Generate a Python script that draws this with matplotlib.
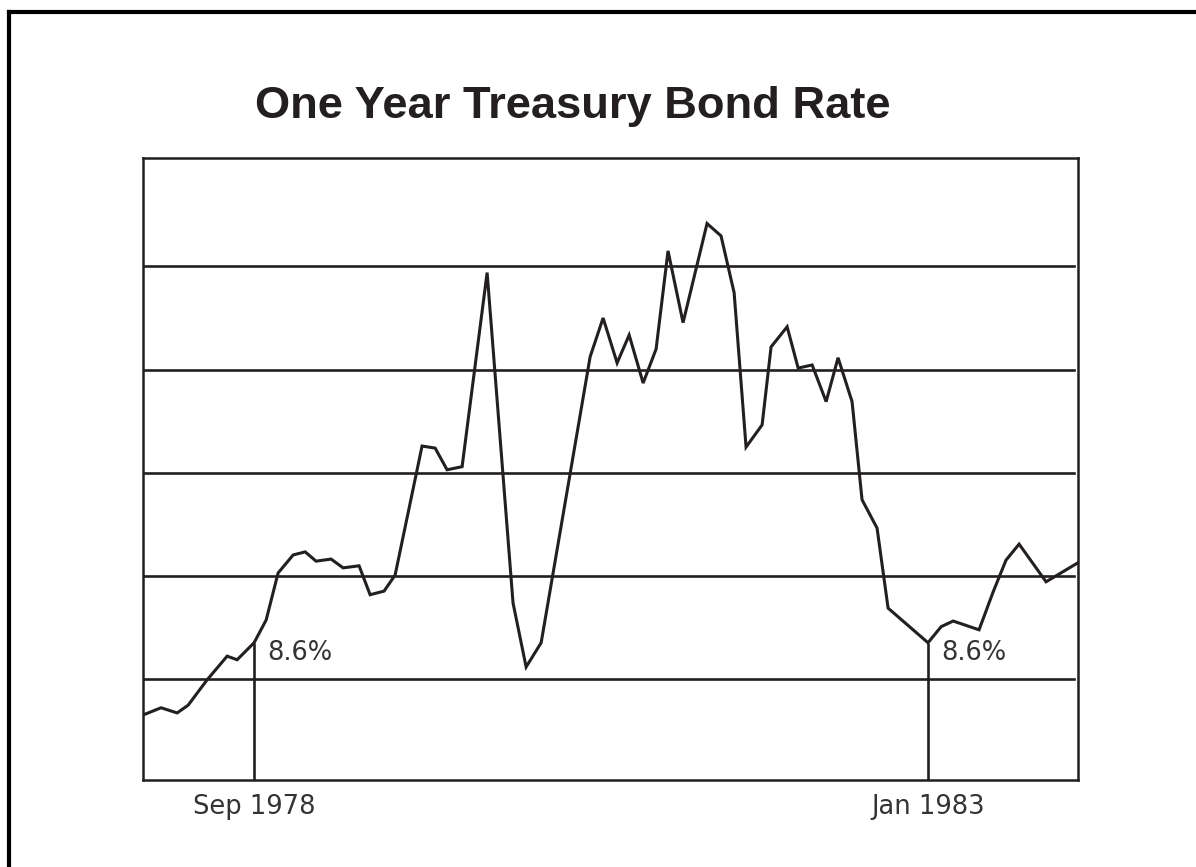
import matplotlib.pyplot as plt
from matplotlib.lines import Line2D

# months counted from Jan 1978, rate in percent
months = [-0.57, 0.82, 2.06, 2.91, 4.37, 5.92, 6.69, 8.0, 8.93, 9.85,
          11.01, 11.94, 12.78, 13.94, 14.87, 16.10, 16.95, 18.03, 18.88, 20.96,
          21.97, 22.89, 24.05, 25.98, 27.98, 28.99, 30.15, 33.93, 34.93, 36.01,
          36.94, 38.02, 39.02, 39.94, 41.10, 42.95, 44.03, 45.04, 45.96, 47.20,
          47.89, 49.13, 49.98, 51.06, 52.14, 53.06, 54.14, 54.91, 56.07, 56.92,
          60.0, 61.01, 61.94, 63.94, 65.02, 66.02, 67.03, 69.11, 71.58]
rates = [7.31, 7.45, 7.35, 7.50, 7.99, 8.45, 8.38, 8.71, 9.15, 10.06,
         10.41, 10.47, 10.29, 10.33, 10.16, 10.20, 9.64, 9.71, 10.02, 12.52,
         12.48, 12.06, 12.12, 15.88, 9.48, 8.24, 8.71, 14.25, 15.00, 14.13,
         14.67, 13.74, 14.40, 16.30, 14.91, 16.83, 16.59, 15.49, 12.50, 12.93,
         14.44, 14.83, 14.03, 14.09, 13.38, 14.23, 13.38, 11.48, 10.93, 9.38,
         8.71, 9.02, 9.13, 8.96, 9.69, 10.31, 10.62, 9.89, 10.26]
gridlines = [8, 10, 12, 14, 16]
marked_months = [8.0, 60.0]
marked_labels = ['Sep 1978', 'Jan 1983']
marked_text = ['8.6%', '8.6%']

ink = '#231f20'
label_color = '#333333'

fig = plt.figure(figsize=(11.96, 8.67), dpi=100)
ax = fig.add_axes([0.1196, 0.1003, 0.7818, 0.7175])

ymin, ymax = 6.05, 18.1
for g in gridlines:
    ax.axhline(g, xmin=0, xmax=0.996, color=ink, lw=1.9, zorder=1)

ax.plot(months, rates, color=ink, lw=2.2, solid_joinstyle='miter', zorder=3)

for m, t in zip(marked_months, marked_text):
    r = rates[months.index(m)]
    ax.vlines(m, ymin, r, color=ink, lw=1.9, zorder=2)
    ax.annotate(t, xy=(m, r), xytext=(13, -17), textcoords='offset pixels',
                ha='left', va='baseline', fontsize=18.5, color=label_color,
                family='DejaVu Sans')

ax.set_xlim(months[0], months[-1])
ax.set_ylim(ymin, ymax)
ax.set_yticks([])
ax.set_xticks(marked_months)
ax.set_xticklabels(marked_labels, fontsize=18.5, color=label_color, family='DejaVu Sans')
ax.tick_params(axis='x', length=0, pad=10)
for s in ax.spines.values():
    s.set_color(ink)
    s.set_linewidth(1.8)

fig.text(0.4787, 1 - 118 / 867, 'One Year Treasury Bond Rate', ha='center',
         va='baseline', fontsize=32.6, fontweight='bold', color=ink,
         family='Liberation Sans')

# outer frame (only left and top edges visible)
fx = 8.5 / 1196
fy = 1 - 11.5 / 867
fig.add_artist(Line2D([fx, fx], [0, fy], transform=fig.transFigure, color='black', lw=3))
fig.add_artist(Line2D([fx, 1], [fy, fy], transform=fig.transFigure, color='black', lw=3))

fig.savefig('out.png', dpi=100)
